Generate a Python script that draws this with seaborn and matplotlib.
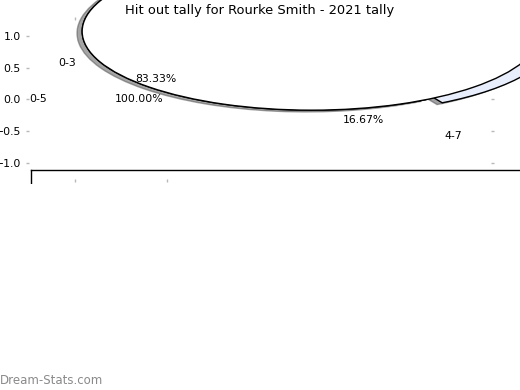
import matplotlib
matplotlib.use("Agg")
import matplotlib.pyplot as plt
import seaborn as sns

title = "Hit out tally for Rourke Smith - 2021 tally"
overall_labels = ["0-5"]
overall_values = [100.0]
split_labels = ["0-3", "4-7"]
split_values = [83.33, 16.67]
split_explode = [0.0, 0.1]
x_ticks = [-1.0, -0.5]
y_ticks = [-1.0, -0.5, 0.0, 0.5, 1.0]
watermark = "Dream-Stats.com"

sns.set_theme(style="white")
plt.rcParams["font.family"] = ["DejaVu Sans"]
palette = ["#ffffff", "#e8eefb"]

W, H = 520, 390
fig = plt.figure(figsize=(W / 100, H / 100), dpi=100)
ax = fig.add_axes([28.5 / W, 1 - 178.75 / H, 462.5 / W, 158.75 / H])

# text labels (placed around the unit circle at the origin)
txt = dict(fontsize=7.8, color="black")
ax.pie(overall_values, labels=overall_labels, autopct="%.2f%%", colors=["none"],
       labeldistance=1.15, pctdistance=0.65, frame=True, textprops=txt,
       wedgeprops=dict(linewidth=0))
ax.pie(split_values, labels=split_labels, autopct="%.2f%%", colors=["none", "none"],
       labeldistance=1.15, pctdistance=0.65, frame=True, textprops=txt,
       wedgeprops=dict(linewidth=0))

# the large displaced wedges
center = (0.28, 1.07)
radius = 1.24
ax.pie(split_values, colors=palette, radius=radius, center=center, shadow=True,
       explode=split_explode, frame=True,
       wedgeprops=dict(edgecolor="black", linewidth=1))
ax.pie(overall_values, colors=["white"], radius=radius, center=center, frame=True,
       wedgeprops=dict(edgecolor="black", linewidth=1))
for p in ax.patches:
    p.set_clip_on(False)

ax.set_aspect("auto")
ax.set_xlim(-1.25, 1.25)
ax.set_ylim(-1.25, 1.25)
ax.set_xticks(x_ticks)
ax.set_yticks(y_ticks)
for s in ax.spines.values():
    s.set_visible(False)
ax.tick_params(axis="both", direction="out", length=2.5, width=1, color="#b8b8b8",
               labelsize=7.8, labelcolor="black", pad=3,
               top=True, right=True, bottom=True, left=True,
               labeltop=False, labelright=False)
ax.set_title(title, fontsize=9.4, pad=4, color="black")

frame_ax = fig.add_axes([31 / W, 0, 1, 1 - 170 / H])
frame_ax.set_facecolor("none")
frame_ax.set_xticks([])
frame_ax.set_yticks([])
for name, s in frame_ax.spines.items():
    s.set_visible(name in ("top", "left"))
    s.set_color("black")
    s.set_linewidth(1)

cover = fig.add_axes([0, 0, 1, (H - 184) / H], zorder=5)
cover.set_facecolor("white")
cover.set_xticks([])
cover.set_yticks([])
for s in cover.spines.values():
    s.set_visible(False)

fig.text(0.0, 10 / H, watermark, ha="left", va="center", fontsize=8.5,
         color="#8a8a8a", zorder=10)

fig.savefig("out.png", dpi=100)
